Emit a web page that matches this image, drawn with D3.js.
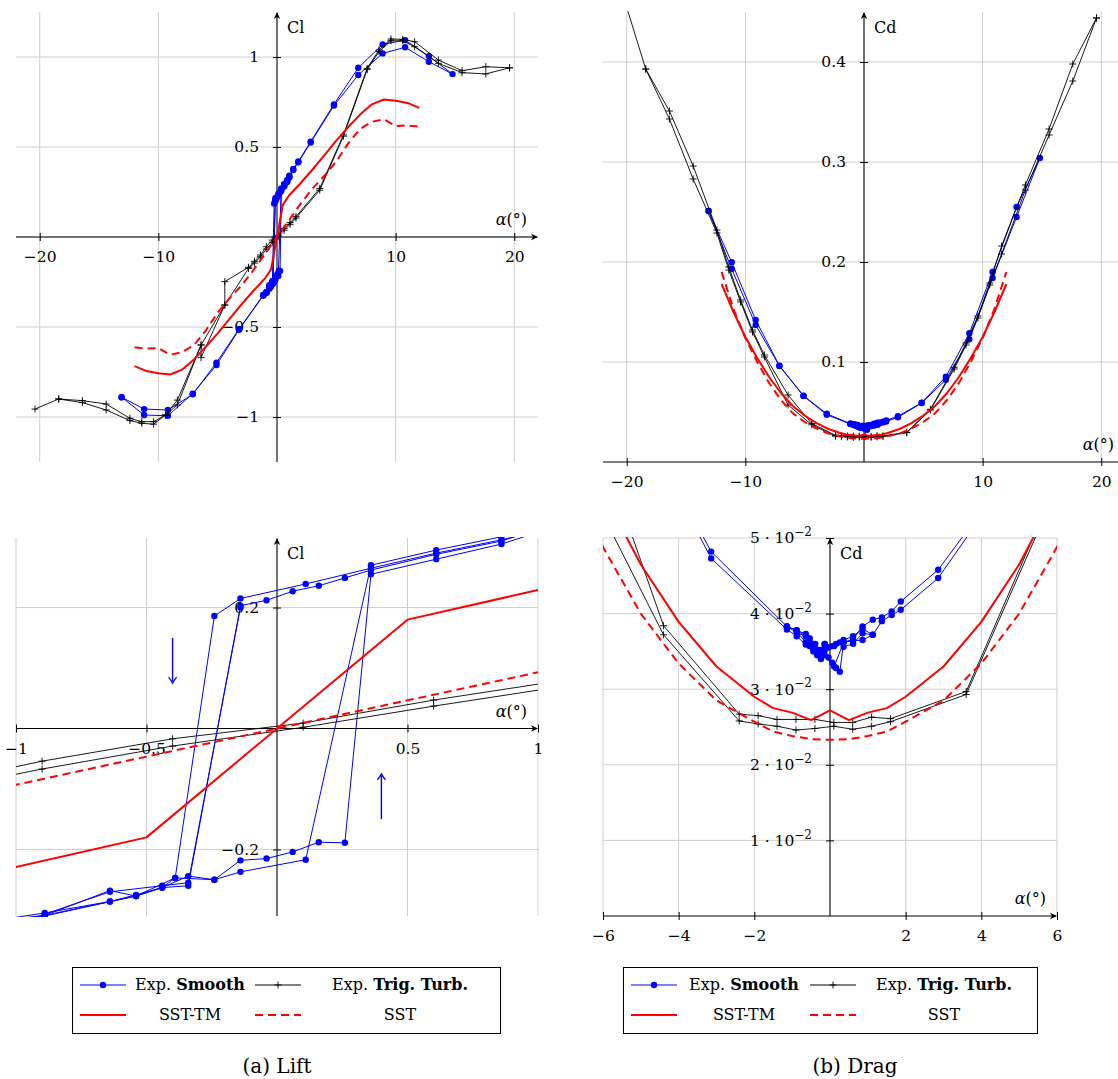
<!DOCTYPE html>
<html><head><meta charset="utf-8">
<script src="https://cdn.jsdelivr.net/npm/d3@7"></script>
<style>body{margin:0;background:#fff} text{font-family:"DejaVu Serif",serif}</style>
</head><body><script>
// ---------------- DATA ----------------
// Lift, experiment "Smooth" (hysteresis runs) [alpha, Cl]
const liftSmoothRun1 = [[-13.1,-0.89],[-11.2,-0.956],[-9.2,-0.961],[-7.1,-0.874],[-5.1,-0.698],[-3.2,-0.511],[-1.15,-0.322],[-0.89,-0.309],[-0.64,-0.268],[-0.54,-0.277],[-0.44,-0.263],[-0.39,-0.247],[-0.24,-0.25],[-0.14,-0.237],[0.11,-0.217],[0.36,0.27],[0.61,0.295],[0.86,0.317],[1.04,0.34],[1.37,0.378],[1.8,0.42],[2.84,0.53],[4.8,0.737],[6.85,0.94],[8.9,1.07],[10.8,1.094],[12.8,1.005],[14.8,0.905],[12.8,0.974],[10.8,1.054],[8.9,1.02],[6.85,0.90],[4.8,0.73],[2.84,0.525],[1.8,0.415],[1.37,0.372],[1.04,0.335],[0.86,0.31],[0.61,0.288],[0.36,0.262],[0.26,0.249],[0.16,0.236],[0.06,0.227],[-0.04,0.212],[-0.14,0.203],[-0.34,-0.26],[-0.44,-0.263],[-0.54,-0.277],[-0.64,-0.286],[-0.89,-0.309],[-1.15,-0.325],[-3.2,-0.515],[-5.1,-0.711],[-7.1,-0.87],[-9.2,-0.993],[-11.2,-0.989],[-13.1,-0.89]];
const liftSmoothRun2 = [[-1.15,-0.322],[-0.89,-0.305],[-0.64,-0.286],[-0.54,-0.275],[-0.44,-0.263],[-0.34,-0.244],[-0.24,-0.25],[-0.14,-0.218],[-0.04,-0.215],[0.06,-0.204],[0.16,-0.188],[0.26,-0.189],[0.36,0.255],[0.61,0.28],[0.86,0.305],[1.04,0.33],[0.86,0.312],[0.61,0.29],[0.36,0.265],[0.11,0.239],[-0.14,0.215],[-0.24,0.186],[-0.39,-0.247],[-0.54,-0.277],[-0.89,-0.31],[-1.15,-0.322]];
const liftSmoothRun3 = [[-0.14,0.2],[-0.34,-0.255],[-0.44,-0.26],[-0.64,-0.27],[-0.89,-0.307]];
// Lift, experiment "Trig. Turb." [alpha, Cl]
const liftTurbRun1 = [[-18.4,-0.9],[-16.4,-0.909],[-14.4,-0.928],[-12.4,-1.007],[-11.4,-1.026],[-10.4,-1.026],[-9.4,-0.989],[-8.4,-0.906],[-6.4,-0.6],[-4.4,-0.378],[-4.4,-0.248],[-2.4,-0.168],[-1.9,-0.135],[-1.4,-0.1],[-0.9,-0.054],[-0.4,-0.017],[0.1,0.009],[0.6,0.047],[1.1,0.08],[1.6,0.113],[3.6,0.27],[5.6,0.567],[7.6,0.937],[8.6,1.039],[9.6,1.10],[10.6,1.098],[11.6,1.085],[13.6,0.983],[15.6,0.924],[17.6,0.946],[19.6,0.94]];
const liftTurbRun2 = [[19.6,0.94],[17.6,0.906],[15.6,0.913],[13.6,0.965],[11.6,1.057],[10.6,1.09],[9.6,1.09],[8.6,1.03],[7.6,0.93],[5.6,0.56],[3.6,0.26],[1.6,0.105],[1.1,0.07],[0.6,0.037],[0.1,0.002],[-0.4,-0.029],[-0.9,-0.067],[-1.4,-0.11],[-1.9,-0.145],[-2.4,-0.175],[-4.4,-0.378],[-6.4,-0.67],[-6.4,-0.6],[-8.4,-0.933],[-9.4,-0.989],[-10.4,-1.04],[-11.4,-1.035],[-12.4,-1.02],[-14.4,-0.961],[-16.4,-0.92],[-18.4,-0.9],[-20.4,-0.956]];
// Lift, simulations
const liftSSTTMAlpha = [-12,-11,-10,-9,-8,-7,-6,-5,-4,-3,-2,-1,-0.5,0,0.5,1,2,3,4,5,6,7,8,9,10,11,12];
const liftSSTTM      = [-0.717,-0.745,-0.757,-0.764,-0.737,-0.68,-0.61,-0.535,-0.455,-0.375,-0.30,-0.229,-0.18,0,0.18,0.229,0.30,0.375,0.455,0.535,0.61,0.68,0.737,0.764,0.757,0.745,0.717];
const liftSSTAlpha = [-12,-11,-10,-9,-8,-7,-6,-5,-4,-3,-2,-1,0,1,2,3,4,5,6,7,8,9,10,11,12];
const liftSST      = [-0.613,-0.62,-0.617,-0.654,-0.64,-0.60,-0.52,-0.42,-0.34,-0.27,-0.185,-0.093,0,0.093,0.185,0.27,0.34,0.42,0.52,0.60,0.64,0.654,0.617,0.62,0.613];

// Drag, experiment "Smooth" [alpha, Cd]
const dragSmoothRun1 = [[-13.1,0.251],[-11.15,0.1997],[-9.13,0.142],[-7.13,0.0963],[-5.1,0.0663],[-3.14,0.0482],[-1.14,0.0383],[-0.88,0.0378],[-0.64,0.0373],[-0.54,0.0367],[-0.44,0.036],[-0.34,0.0352],[-0.24,0.034],[-0.14,0.0345],[0.11,0.033],[0.36,0.0362],[0.61,0.0366],[0.86,0.0383],[1.13,0.0392],[1.37,0.0395],[1.63,0.0403],[1.87,0.0416],[2.86,0.0458],[4.86,0.0593],[6.9,0.0853],[8.88,0.1287],[10.84,0.190],[12.86,0.255],[14.83,0.304],[12.86,0.245],[10.84,0.184],[8.88,0.1227],[6.9,0.0823],[4.86,0.059],[2.86,0.0447],[1.87,0.0405],[1.63,0.0398],[1.37,0.039],[1.13,0.0372],[0.86,0.0374],[0.61,0.036],[0.36,0.0356],[0.26,0.0362],[0.16,0.036],[0.06,0.0357],[-0.04,0.0355],[-0.14,0.036],[-0.34,0.0345],[-0.44,0.035],[-0.54,0.0357],[-0.64,0.0359],[-0.88,0.037],[-1.14,0.0379],[-3.14,0.0473],[-5.1,0.066],[-7.13,0.096],[-9.13,0.137],[-11.15,0.193],[-13.1,0.251]];
const dragSmoothRun2 = [[-1.14,0.0383],[-0.88,0.0375],[-0.64,0.037],[-0.54,0.0362],[-0.44,0.0355],[-0.34,0.035],[-0.24,0.0345],[-0.14,0.0352],[-0.04,0.0342],[0.06,0.0335],[0.16,0.0328],[0.26,0.0323],[0.36,0.0362],[0.61,0.0364],[0.86,0.0365],[1.13,0.0372],[0.86,0.038],[0.61,0.037],[0.36,0.0365],[0.11,0.0357],[-0.14,0.036],[-0.24,0.0352],[-0.39,0.036],[-0.54,0.0367],[-0.88,0.0378],[-1.14,0.0383]];
const dragSmoothRun3 = [[-0.14,0.0358],[-0.34,0.0348],[-0.44,0.0352],[-0.64,0.0362],[-0.88,0.0376]];
// Drag, experiment "Trig. Turb." [alpha, Cd]
const dragTurbRun1 = [[-20.4,0.47],[-18.4,0.393],[-16.4,0.351],[-14.4,0.296],[-12.4,0.232],[-11.4,0.195],[-10.4,0.162],[-9.4,0.132],[-8.4,0.107],[-6.4,0.067],[-4.4,0.0384],[-2.4,0.0267],[-1.9,0.0265],[-1.4,0.026],[-0.9,0.026],[-0.4,0.026],[0.1,0.0256],[0.6,0.0256],[1.1,0.0263],[1.6,0.0261],[3.6,0.0297],[5.6,0.0527],[7.6,0.0947],[8.6,0.119],[9.6,0.146],[10.6,0.179],[11.6,0.216],[13.6,0.277],[15.6,0.333],[17.6,0.398],[19.6,0.444]];
const dragTurbRun2 = [[19.6,0.444],[17.6,0.381],[15.6,0.327],[13.6,0.272],[11.6,0.208],[10.6,0.177],[9.6,0.144],[8.6,0.117],[7.6,0.093],[5.6,0.052],[3.6,0.0293],[1.6,0.0257],[1.1,0.0251],[0.6,0.0247],[0.1,0.0251],[-0.4,0.0248],[-0.9,0.0246],[-1.4,0.0251],[-1.9,0.0254],[-2.4,0.0258],[-4.4,0.0372],[-6.4,0.057],[-8.4,0.105],[-9.4,0.130],[-10.4,0.160],[-11.4,0.192],[-12.4,0.229],[-14.4,0.283],[-16.4,0.343],[-18.4,0.393]];
// Drag, simulations
const dragSSTTMAlpha = [-12,-11,-10,-9,-8,-7,-6,-5,-4,-3,-2,-1.5,-1,-0.5,0,0.5,1,1.5,2,3,4,5,6,7,8,9,10,11,12];
const dragSSTTM      = [0.178,0.15,0.125,0.104,0.085,0.069,0.056,0.0465,0.0389,0.033,0.029,0.0275,0.0269,0.0259,0.0272,0.0259,0.0269,0.0275,0.029,0.033,0.0389,0.0465,0.056,0.069,0.085,0.104,0.125,0.15,0.178];
const dragSSTAlpha = [-12,-11,-10,-9,-8,-7,-6,-5,-4,-3,-2,-1.5,-1,-0.5,0,0.5,1,1.5,2,3,4,5,6,7,8,9,10,11,12];
const dragSST      = [0.19,0.153,0.124,0.1,0.079,0.062,0.0488,0.040,0.0334,0.0285,0.0257,0.0244,0.0238,0.0234,0.0233,0.0234,0.0238,0.0244,0.0257,0.0285,0.0334,0.040,0.0488,0.062,0.079,0.1,0.124,0.153,0.19];

// Tick values
const liftXTicks = [-20,-10,10,20], liftYTicks = [-1,-0.5,0.5,1];
const dragXTicks = [-20,-10,10,20], dragYTicks = [0.1,0.2,0.3,0.4];
const liftZoomXTicks = [-1,-0.5,0.5,1], liftZoomYTicks = [-0.2,0.2];
const dragZoomXTicks = [-6,-4,-2,2,4,6], dragZoomYTicks = [0.01,0.02,0.03,0.04,0.05];
// hysteresis direction arrows (data coords of the zoomed lift plot)
const liftZoomArrows = [{from:[-0.4,0.15],to:[-0.4,0.075]},{from:[0.4,-0.15],to:[0.4,-0.075]}];

const legendLabels = [["Exp. ","Smooth"],["Exp. ","Trig. Turb."],["SST-TM"],["SST"]];

// ---------------- DRAWING ----------------
const W=1118,H=1079;
const FONT='"DejaVu Serif",serif';
const svg=d3.select('body').append('svg').attr('width',W).attr('height',H);
const defs=svg.append('defs');
const BLUE='#0000ff', RED='#ff0000';
const zip=(a,v)=>a.map((d,i)=>[d,v[i]]);
const fmt=v=>(v<0?'\u2212':'')+Math.abs(v);

function arrowHead(g,x,y,dir,color){
  const rot={right:0,up:-90,down:90}[dir];
  g.append('path').attr('d','M0,0 L-7,-3.2 L-5,0 L-7,3.2 Z')
    .attr('transform',`translate(${x},${y}) rotate(${rot})`).attr('fill',color);
}

function drawPanel(p){
  const x=d3.scaleLinear().domain(p.xDomain).range(p.xRange);
  const y=d3.scaleLinear().domain(p.yDomain).range(p.yRange);
  const g=svg.append('g');
  const cid='clip'+p.id;
  defs.append('clipPath').attr('id',cid).append('rect')
    .attr('x',p.xRange[0]).attr('y',p.yRange[1]-1)
    .attr('width',p.xRange[1]-p.xRange[0]).attr('height',p.yRange[0]-p.yRange[1]+2);
  const grid=g.append('g').attr('stroke','#cfcfcf').attr('stroke-width',1);
  grid.selectAll('.vx').data(p.xGrid).join('line')
    .attr('x1',d=>x(d)).attr('x2',d=>x(d)).attr('y1',p.yRange[0]).attr('y2',p.yRange[1]);
  grid.selectAll('.hy').data(p.yGrid).join('line')
    .attr('y1',d=>y(d)).attr('y2',d=>y(d)).attr('x1',p.xRange[0]).attr('x2',p.xRange[1]);
  const x0=x(0), y0=y(0);
  g.append('line').attr('x1',p.xRange[0]).attr('x2',p.xRange[1]-1).attr('y1',y0).attr('y2',y0).attr('stroke','#000').attr('stroke-width',1);
  g.append('line').attr('x1',x0).attr('x2',x0).attr('y1',p.yRange[0]).attr('y2',p.yRange[1]+1).attr('stroke','#000').attr('stroke-width',1);
  arrowHead(g,p.xRange[1],y0,'right','#000');
  arrowHead(g,x0,p.yRange[1],'up','#000');
  const ax=g.append('g').attr('transform',`translate(0,${y0})`)
    .call(d3.axisBottom(x).tickValues(p.xTicks).tickFormat(fmt).tickSize(4).tickPadding(10));
  const ay=g.append('g').attr('transform',`translate(${x0},0)`)
    .call(d3.axisLeft(y).tickValues(p.yTicks).tickFormat(fmt).tickSize(4).tickPadding(14));
  [ax,ay].forEach(a=>{a.select('.domain').remove();
    a.selectAll('text').attr('font-size',15.5).attr('fill','#000').attr('font-family',FONT);
    a.selectAll('line').attr('stroke','#000');});
  ax.selectAll('.tick line').attr('y1',-4);
  ay.selectAll('.tick line').attr('x1',4);
  if(p.sciY){
    ay.selectAll('.tick text').each(function(d){
      const t=d3.select(this); const k=Math.round(d*100);
      t.text(null);
      t.append('tspan').text(k+' \u00b7 10');
      t.append('tspan').attr('font-size',12).attr('dy','-0.6em').text('\u22122');
    });
  }
  g.append('text').attr('x',x0+10).attr('y',p.yRange[1]+21).attr('font-size',16).text(p.yLabel);
  const al=g.append('text').attr('x',p.xRange[1]-11).attr('y',y0-12).attr('font-size',16).attr('text-anchor','end');
  al.append('tspan').attr('font-style','italic').text('\u03b1');
  al.append('tspan').text('(\u00b0)');
  const sg=g.append('g').attr('clip-path',`url(#${cid})`);
  const line=d3.line().x(d=>x(d[0])).y(d=>y(d[1]));
  p.series.forEach(s=>{
    sg.append('path').datum(s.data).attr('d',line).attr('fill','none')
      .attr('stroke',s.color).attr('stroke-width',s.width)
      .attr('stroke-dasharray',s.dash||null).attr('stroke-linejoin','round');
    if(s.marker==='dot'){
      sg.append('g').selectAll('circle').data(s.data).join('circle')
        .attr('cx',d=>x(d[0])).attr('cy',d=>y(d[1])).attr('r',3.2).attr('fill',s.color);
    } else if(s.marker==='plus'){
      sg.append('g').selectAll('path').data(s.data).join('path')
        .attr('d',d=>`M${x(d[0])-3.5},${y(d[1])}h7M${x(d[0])},${y(d[1])-3.5}v7`)
        .attr('stroke',s.color).attr('stroke-width',0.9);
    }
  });
  if(p.arrows){
    p.arrows.forEach(a=>{
      const x1=x(a.from[0]),y1=y(a.from[1]),x2=x(a.to[0]),y2=y(a.to[1]);
      g.append('line').attr('x1',x1).attr('y1',y1).attr('x2',x2).attr('y2',y2+(y2>y1?-2:2))
        .attr('stroke',BLUE).attr('stroke-width',1.4);
      g.append('path').attr('d',y2>y1?`M${x2-4},${y2-6} Q${x2-1},${y2-2} ${x2},${y2} Q${x2+1},${y2-2} ${x2+4},${y2-6}`
                                       :`M${x2-4},${y2+6} Q${x2-1},${y2+2} ${x2},${y2} Q${x2+1},${y2+2} ${x2+4},${y2+6}`)
        .attr('fill','none').attr('stroke',BLUE).attr('stroke-width',1.3);
    });
  }
}

function seriesSet(sm1,sm2,sm3,t1,t2,tm,sst){
  return [
    {data:sm1,color:BLUE,width:1,marker:'dot'},
    {data:sm2,color:BLUE,width:1,marker:'dot'},
    {data:sm3,color:BLUE,width:1,marker:'dot'},
    {data:t1,color:'#000',width:0.9,marker:'plus'},
    {data:t2,color:'#000',width:0.9,marker:'plus'},
    {data:tm,color:RED,width:2},
    {data:sst,color:RED,width:2,dash:'8,5'}
  ];
}
const liftSeries=seriesSet(liftSmoothRun1,liftSmoothRun2,liftSmoothRun3,liftTurbRun1,liftTurbRun2,zip(liftSSTTMAlpha,liftSSTTM),zip(liftSSTAlpha,liftSST));
const dragSeries=seriesSet(dragSmoothRun1,dragSmoothRun2,dragSmoothRun3,dragTurbRun1,dragTurbRun2,zip(dragSSTTMAlpha,dragSSTTM),zip(dragSSTAlpha,dragSST));

drawPanel({id:'a',xDomain:[-22,22],xRange:[16,538],yDomain:[-1.25,1.25],yRange:[462,12],
  xTicks:liftXTicks,yTicks:liftYTicks,xGrid:[-20,-10,0,10,20],yGrid:[-1,-0.5,0,0.5,1],yLabel:'Cl',series:liftSeries});
drawPanel({id:'b',xDomain:[-22,22],xRange:[603,1125],yDomain:[0,0.45],yRange:[462,12],
  xTicks:dragXTicks,yTicks:dragYTicks,xGrid:[-20,-10,0,10,20],yGrid:[0.1,0.2,0.3,0.4],yLabel:'Cd',series:dragSeries});
drawPanel({id:'c',xDomain:[-1,1],xRange:[16,538],yDomain:[-0.31,0.315],yRange:[916,538],
  xTicks:liftZoomXTicks,yTicks:liftZoomYTicks,xGrid:[-1,-0.5,0,0.5,1],yGrid:[-0.2,0,0.2],yLabel:'Cl',series:liftSeries,arrows:liftZoomArrows});
drawPanel({id:'d',xDomain:[-6,6],xRange:[603,1057],yDomain:[0,0.05],yRange:[916,538],
  xTicks:dragZoomXTicks,yTicks:dragZoomYTicks,xGrid:[-6,-4,-2,0,2,4,6],yGrid:[0.01,0.02,0.03,0.04,0.05],yLabel:'Cd',series:dragSeries,sciY:true});

// ---------------- LEGENDS ----------------
function legend(x0,y0,w,h,s2,c1,c2){
  const g=svg.append('g');
  g.append('rect').attr('x',x0+0.5).attr('y',y0+0.5).attr('width',w).attr('height',h).attr('fill','#fff').attr('stroke','#000');
  const r1=y0+18, r2=y0+48;
  const s1=x0+8;
  const items=[
    {sx:s1,y:r1,color:BLUE,m:'dot',lab:legendLabels[0],cx:c1},
    {sx:s2,y:r1,color:'#000',m:'plus',lab:legendLabels[1],cx:c2},
    {sx:s1,y:r2,color:RED,w:2,lab:legendLabels[2],cx:c1},
    {sx:s2,y:r2,color:RED,w:2,dash:'8,5',lab:legendLabels[3],cx:c2}];
  items.forEach(it=>{
    g.append('line').attr('x1',it.sx).attr('x2',it.sx+46).attr('y1',it.y).attr('y2',it.y)
      .attr('stroke',it.color).attr('stroke-width',it.w||1).attr('stroke-dasharray',it.dash||null);
    const mx=it.sx+23;
    if(it.m==='dot') g.append('circle').attr('cx',mx).attr('cy',it.y).attr('r',3.2).attr('fill',it.color);
    if(it.m==='plus') g.append('path').attr('d',`M${mx-3.5},${it.y}h7M${mx},${it.y-3.5}v7`).attr('stroke','#000').attr('stroke-width',0.9);
    const t=g.append('text').attr('x',it.cx).attr('y',it.y+5).attr('text-anchor','middle').attr('font-size',16);
    t.append('tspan').text(it.lab[0]);
    if(it.lab[1]) t.append('tspan').attr('font-weight','bold').text(it.lab[1]);
  });
}
legend(72,967,428,66,255,190,400);
legend(623,967,414,66,810,744,944);

svg.append('text').attr('x',277).attr('y',1073).attr('text-anchor','middle').attr('font-size',20).text('(a) Lift');
svg.append('text').attr('x',855).attr('y',1073).attr('text-anchor','middle').attr('font-size',20).text('(b) Drag');
</script></body></html>
